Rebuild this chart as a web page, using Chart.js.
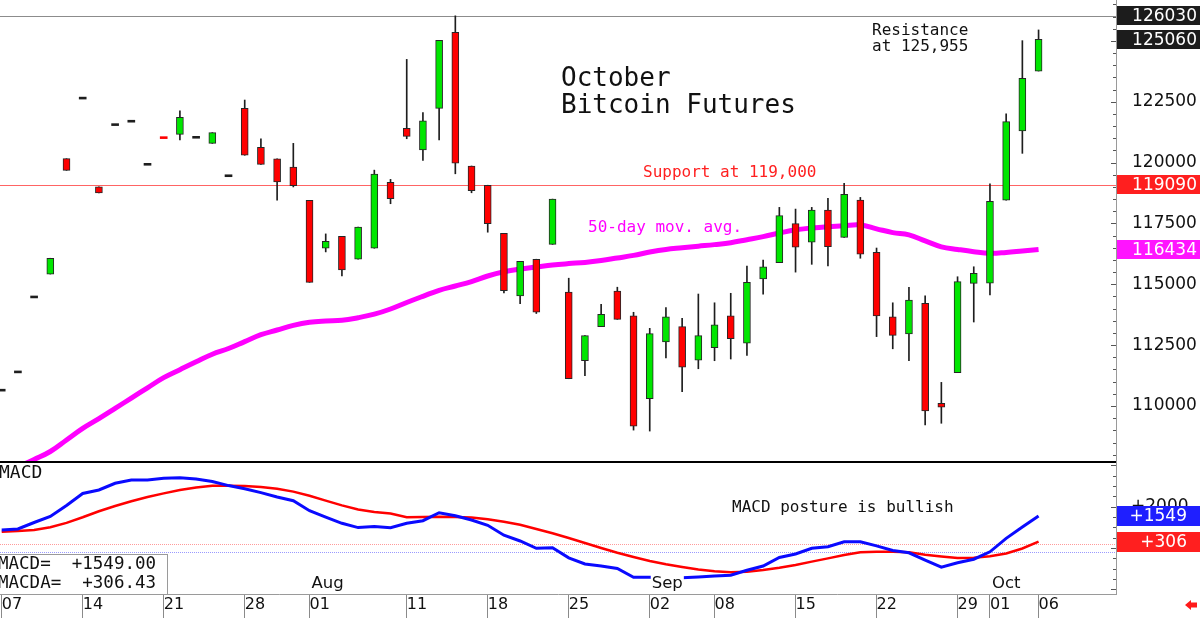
<!DOCTYPE html>
<html>
<head>
<meta charset="utf-8">
<title>October Bitcoin Futures</title>
<script src="https://cdn.jsdelivr.net/npm/chart.js@4.4.1/dist/chart.umd.min.js"></script>
<style>
  html, body { margin: 0; padding: 0; background: #fff; }
  #page { position: relative; width: 1200px; height: 618px; overflow: hidden; background: #fff; }
  #priceChart { position: absolute; left: 0; top: 0; }
  #macdChart { position: absolute; left: 0; top: 461px; }
</style>
</head>
<body>
<div id="page">
  <canvas id="priceChart" width="1200" height="461"></canvas>
  <canvas id="macdChart" width="1200" height="157"></canvas>
</div>
<script>
// daily bars, index = trading day (0 = Jul 07 ... 64 = Oct 06)
const openP = [
  110650, 111400, 114480, 115420, 120160,
  122650, 119000, 121560, 121700, 119930,
  121030, 121160, 121040, 120790, 119460,
  122230, 120630, 120150, 119820, 118450,
  116480, 116970, 116030, 116480, 119190,
  121410, 120520, 122230, 125350, 119860,
  119070, 117090, 114520, 116030, 116640,
  114680, 111860, 113260, 114720, 113700,
  110300, 112630, 113260, 111880, 112400,
  113700, 112580, 115220, 115890, 117490,
  116730, 118050, 116930, 118460, 116310,
  113660, 112960, 114220, 110110, 111370,
  115040, 115050, 118460, 121300, 123760
];
const highP = [
  110650, 111400, 114480, 116070, 120160,
  122650, 119000, 121560, 121700, 119930,
  121030, 122130, 121040, 121230, 119460,
  122570, 120980, 120150, 120790, 118450,
  117070, 116970, 117350, 119690, 119310,
  124240, 122050, 125020, 126030, 119860,
  119070, 117090, 115940, 116030, 118500,
  115250, 112890, 114180, 114880, 113850,
  113190, 114040, 113600, 114600, 114240,
  114630, 115750, 115990, 118160, 118090,
  118160, 118530, 119150, 118570, 116490,
  114240, 114880, 114530, 110970, 115310,
  115720, 119130, 122000, 125010, 125450
];
const lowP = [
  110650, 111400, 114480, 115420, 119680,
  122650, 118750, 121560, 121700, 119930,
  121020, 120930, 121040, 120790, 119460,
  120300, 119930, 118460, 119000, 115080,
  116330, 115340, 116030, 116480, 118310,
  120980, 120090, 120930, 119540, 118760,
  117140, 114650, 114200, 113800, 116640,
  111120, 111250, 113260, 113560, 109010,
  108970, 111980, 110590, 111530, 111860,
  111930, 112080, 114590, 115890, 115500,
  115820, 115750, 116930, 116070, 112850,
  112350, 111860, 109220, 109290, 111370,
  113450, 114560, 118460, 120380, 123760
];
const closeP = [
  110650, 111400, 114480, 116070, 119680,
  122650, 118750, 121560, 121700, 119930,
  121020, 121860, 121040, 121230, 119460,
  120300, 119930, 119210, 119050, 115080,
  116770, 115590, 117350, 119530, 118520,
  121080, 121720, 125020, 119980, 118850,
  117490, 114740, 115940, 113850, 118500,
  111120, 112890, 113770, 113560, 109170,
  112970, 113660, 111590, 112890, 113330,
  112770, 115080, 115720, 117820, 116530,
  118050, 116550, 118700, 116240, 113700,
  112900, 114350, 109800, 109950, 115110,
  115450, 118410, 121680, 123460, 125060
];
const ma50 = [
  107165, 107494, 107802, 108131, 108603,
  109080, 109482, 109901, 110325, 110748,
  111163, 111491, 111816, 112128, 112362,
  112646, 112929, 113122, 113311, 113438,
  113492, 113521, 113627, 113771, 113985,
  114252, 114506, 114753, 114930, 115114,
  115340, 115513, 115628, 115710, 115792,
  115850, 115899, 115977, 116080, 116187,
  116326, 116433, 116499, 116565, 116630,
  116708, 116832, 116959, 117107, 117238,
  117312, 117366, 117407, 117435, 117279,
  117123, 117029, 116782, 116540, 116433,
  116339, 116273, 116310, 116372, 116434
];
const macdLine = [
  869, 918, 1232, 1521, 2053,
  2632, 2801, 3125, 3284, 3284,
  3367, 3395, 3333, 3212, 3014,
  2864, 2676, 2463, 2285, 1802,
  1488, 1193, 985, 1043, 980,
  1193, 1319, 1705, 1560, 1352,
  1096, 618, 338, -14, 14,
  -473, -773, -869, -990, -1415,
  -1415, -1425, -1434, -1401, -1352,
  -1314, -1077, -869, -459, -290,
  -14, 63, 304, 304, 101,
  -121, -232, -580, -927, -715,
  -541, -184, 464, 1014, 1549.00
];
const macdAvg = [
  787, 821, 869, 1000, 1212,
  1483, 1777, 2029, 2260, 2463,
  2637, 2797, 2927, 3009, 3009,
  2995, 2941, 2864, 2724, 2521,
  2289, 2058, 1860, 1739, 1666,
  1488, 1497, 1512, 1497, 1468,
  1386, 1265, 1125, 918, 710,
  483, 242, 0, -227, -435,
  -628, -787, -918, -1043, -1125,
  -1169, -1145, -1063, -951, -821,
  -657, -502, -338, -208, -179,
  -179, -208, -328, -411, -488,
  -469, -401, -266, -24, 306.43
];

const dateLabels = ['07', '14', '21', '28', '01', '11', '18', '25', '02', '08', '15', '22', '29', '01', '06'];
const dateIdx = [0, 5, 10, 15, 19, 25, 30, 35, 40, 44, 49, 54, 59, 61, 64];
const monthLabels = ['Aug', 'Sep', 'Oct'];
const monthIdx = [19, 40, 61];

const priceTicks = [110000, 112500, 115000, 117500, 120000, 122500, 125000];
const macdTicks = [0, 2000];

const highLine = 126030;
const supportLine = 119090;
const priceMarks = [126030, 125060, 119090, 116434];
const macdRefLevels = [180, -210];

const UP = '#00e600', DOWN = '#ff0000', FLAT = '#1e1e1e';
const MONO = '"DejaVu Sans Mono", monospace';
const SANS = '"DejaVu Sans", sans-serif';
const X_MIN = -0.105, X_MAX = 68.78;

Chart.defaults.font.family = SANS;

function candleColor(i) {
  const d = closeP[i] - openP[i];
  return d > 0 ? UP : (d < 0 ? DOWN : FLAT);
}
function isDash(i) {
  return Math.abs(closeP[i] - openP[i]) < 80;
}

const bodyData = openP.map((o, i) => {
  let lo = Math.min(o, closeP[i]);
  let hi = Math.max(o, closeP[i]);
  if (hi - lo < 80) {
    const m = (hi + lo) / 2;
    lo = m - 40;
    hi = m + 40;
  }
  return { x: i, y: [lo, hi] };
});
const wickData = [];
highP.forEach((h, i) => {
  if (h > lowP[i]) wickData.push({ x: i, y: [lowP[i], h] });
});

function text(ctx, str, x, y, font, color, align) {
  ctx.save();
  ctx.font = font;
  ctx.fillStyle = color;
  ctx.textAlign = align || 'left';
  ctx.textBaseline = 'middle';
  ctx.fillText(str, x, y);
  ctx.restore();
}

function axisTicks(chart, step, major) {
  const s = chart.scales.y;
  const x = chart.chartArea.right;
  const ctx = chart.ctx;
  ctx.save();
  ctx.strokeStyle = '#555';
  ctx.lineWidth = 1;
  ctx.beginPath();
  for (let v = Math.ceil(s.min / step) * step; v <= s.max; v += step) {
    const y = Math.round(s.getPixelForValue(v)) + 0.5;
    const len = v % major === 0 ? 5 : 3;
    ctx.moveTo(x - len, y);
    ctx.lineTo(x, y);
  }
  ctx.stroke();
  ctx.restore();
}

function valueBox(ctx, y, str, bg, textRight, h) {
  ctx.save();
  ctx.fillStyle = bg;
  ctx.fillRect(1117, Math.round(y - h / 2), 83, h);
  ctx.restore();
  text(ctx, str, textRight, y + 1, '17px ' + SANS, '#fff', 'right');
}

function hLine(ctx, area, y, color, dash) {
  ctx.save();
  ctx.strokeStyle = color;
  ctx.lineWidth = 1;
  if (dash) ctx.setLineDash(dash);
  const py = Math.round(y) + 0.5;
  ctx.beginPath();
  ctx.moveTo(area.left, py);
  ctx.lineTo(area.right, py);
  ctx.stroke();
  ctx.restore();
}

const priceOverlay = {
  id: 'priceOverlay',
  beforeDatasetsDraw(chart) {
    const { ctx, chartArea, scales } = chart;
    hLine(ctx, chartArea, scales.y.getPixelForValue(highLine), '#8c8c8c');
    hLine(ctx, chartArea, scales.y.getPixelForValue(supportLine), '#ff6464');
  },
  afterDatasetsDraw(chart) {
    const ctx = chart.ctx;
    text(ctx, 'October', 561, 79, '26px ' + MONO, '#111');
    text(ctx, 'Bitcoin Futures', 561, 106, '26px ' + MONO, '#111');
    text(ctx, 'Support at 119,000', 643, 173, '16px ' + MONO, '#ff2020');
    text(ctx, '50-day mov. avg.', 588, 228, '16px ' + MONO, '#ff00ff');
    text(ctx, 'Resistance', 872, 31, '16px ' + MONO, '#111');
    text(ctx, 'at 125,955', 872, 47, '16px ' + MONO, '#111');
  },
  afterDraw(chart) {
    const ctx = chart.ctx;
    const y = chart.scales.y;
    axisTicks(chart, 500, 2500);
    const bgs = ['#1c1c1c', '#1c1c1c', '#ff1f1f', '#ff14ff'];
    priceMarks.forEach((v, i) => valueBox(ctx, y.getPixelForValue(v), String(v), bgs[i], 1197, 19));
  }
};

const macdOverlay = {
  id: 'macdOverlay',
  beforeDatasetsDraw(chart) {
    const { ctx, chartArea, scales } = chart;
    hLine(ctx, chartArea, scales.y.getPixelForValue(macdRefLevels[0]), '#ff9a9a', [1, 1]);
    hLine(ctx, chartArea, scales.y.getPixelForValue(macdRefLevels[1]), '#9a9aff', [1, 1]);
  },
  afterDatasetsDraw(chart) {
    const { ctx, chartArea, scales } = chart;
    ctx.save();
    ctx.fillStyle = '#000';
    ctx.fillRect(0, 0, chartArea.right, 2);
    ctx.restore();
    text(ctx, 'MACD', -1, 12, '18px ' + MONO, '#111');
    text(ctx, 'MACD posture is bullish', 732, 47, '16px ' + MONO, '#111');

    // value box, lower left
    ctx.save();
    ctx.fillStyle = '#fff';
    ctx.strokeStyle = '#9a9a9a';
    ctx.lineWidth = 1;
    ctx.fillRect(-1, 93, 169, 40);
    ctx.strokeRect(-0.5, 93.5, 168, 40);
    ctx.restore();
    const last = macdLine.length - 1;
    text(ctx, 'MACD=  +' + macdLine[last].toFixed(2), -2, 103, '17.5px ' + MONO, '#111');
    text(ctx, 'MACDA=  +' + macdAvg[last].toFixed(2), -2, 122, '17.5px ' + MONO, '#111');

    // month names above the date row
    monthLabels.forEach((m, i) => {
      const x = scales.x.getPixelForValue(monthIdx[i]) + 2;
      ctx.save();
      ctx.font = '16.5px ' + SANS;
      const w = ctx.measureText(m).width;
      ctx.fillStyle = '#fff';
      ctx.fillRect(x - 1, 112, w + 2, 21);
      ctx.restore();
      text(ctx, m, x, 123, '16.5px ' + SANS, '#111');
    });
  },
  afterDraw(chart) {
    const ctx = chart.ctx;
    const y = chart.scales.y;
    axisTicks(chart, 500, 2000);
    const last = macdLine.length - 1;
    valueBox(ctx, y.getPixelForValue(macdLine[last]), '+' + Math.round(macdLine[last]), '#1f1fff', 1187, 20);
    valueBox(ctx, y.getPixelForValue(macdAvg[last]), '+' + Math.round(macdAvg[last]), '#ff1f1f', 1187, 20);

    // small red arrow, bottom right
    ctx.save();
    ctx.fillStyle = '#ff1a1a';
    ctx.beginPath();
    ctx.moveTo(1185, 144);
    ctx.lineTo(1191, 139);
    ctx.lineTo(1191, 141.5);
    ctx.lineTo(1197, 141.5);
    ctx.lineTo(1197, 146.5);
    ctx.lineTo(1191, 146.5);
    ctx.lineTo(1191, 149);
    ctx.closePath();
    ctx.fill();
    ctx.restore();
  }
};

new Chart(document.getElementById('priceChart'), {
  type: 'bar',
  data: {
    datasets: [
      {
        type: 'bar',
        label: 'body',
        data: bodyData,
        backgroundColor: c => candleColor(c.dataIndex),
        borderColor: c => isDash(c.dataIndex) ? candleColor(c.dataIndex) : '#262626',
        borderWidth: c => isDash(c.dataIndex) ? 0 : 1,
        borderSkipped: false,
        barThickness: 7,
        grouped: false,
        order: 0
      },
      {
        type: 'bar',
        label: 'wick',
        data: wickData,
        backgroundColor: '#1e1e1e',
        barThickness: 1,
        grouped: false,
        order: 1
      },
      {
        type: 'line',
        label: '50-day mov. avg.',
        data: ma50.map((v, i) => ({ x: i, y: v })),
        borderColor: '#ff00ff',
        borderWidth: 5,
        pointRadius: 0,
        tension: 0.4,
        order: 2
      }
    ]
  },
  options: {
    responsive: false,
    animation: false,
    devicePixelRatio: 1,
    layout: { padding: 0 },
    plugins: { legend: { display: false }, tooltip: { enabled: false } },
    scales: {
      x: { type: 'linear', min: X_MIN, max: X_MAX, offset: false, grid: { offset: false }, display: false },
      y: {
        type: 'linear',
        position: 'right',
        min: 107740,
        max: 126680,
        afterBuildTicks: s => { s.ticks = priceTicks.map(v => ({ value: v })); },
        afterFit: s => { s.width = 84; s.paddingTop = 0; s.paddingBottom = 0; },
        grid: { display: false, drawTicks: false },
        border: { display: true, color: '#9a9a9a', width: 1 },
        ticks: {
          padding: 16,
          crossAlign: 'near',
          color: '#111',
          font: { family: SANS, size: 17 },
          callback: v => String(v)
        }
      }
    }
  },
  plugins: [priceOverlay]
});

new Chart(document.getElementById('macdChart'), {
  type: 'line',
  data: {
    datasets: [
      {
        label: 'MACD',
        data: macdLine.map((v, i) => ({ x: i, y: v })),
        borderColor: '#0a0aff',
        borderWidth: 3,
        pointRadius: 0,
        tension: 0,
        order: 0
      },
      {
        label: 'MACDA',
        data: macdAvg.map((v, i) => ({ x: i, y: v })),
        borderColor: '#ff0000',
        borderWidth: 2.5,
        pointRadius: 0,
        tension: 0,
        order: 1
      }
    ]
  },
  options: {
    responsive: false,
    animation: false,
    devicePixelRatio: 1,
    layout: { padding: 0 },
    plugins: { legend: { display: false }, tooltip: { enabled: false } },
    scales: {
      x: {
        type: 'linear',
        min: X_MIN,
        max: X_MAX,
        afterBuildTicks: s => { s.ticks = dateIdx.map(v => ({ value: v })); },
        afterFit: s => { s.height = 24; s.paddingLeft = 0; s.paddingRight = 0; },
        grid: { display: true, drawOnChartArea: false, drawTicks: true, tickLength: 24, color: '#8a8a8a', lineWidth: 1 },
        border: { display: true, color: '#9a9a9a', width: 1 },
        ticks: {
          autoSkip: false,
          maxRotation: 0,
          align: 'start',
          padding: -23,
          color: '#111',
          font: { family: SANS, size: 16 },
          callback: (v, i) => dateLabels[i]
        }
      },
      y: {
        type: 'linear',
        position: 'right',
        min: -2222,
        max: 4202,
        afterBuildTicks: s => { s.ticks = macdTicks.map(v => ({ value: v })); },
        afterFit: s => { s.width = 84; s.paddingTop = 0; s.paddingBottom = 0; },
        grid: { display: false, drawTicks: false },
        border: { display: true, color: '#9a9a9a', width: 1 },
        ticks: {
          padding: 15,
          crossAlign: 'near',
          color: '#111',
          font: { family: SANS, size: 17 },
          callback: v => (v > 0 ? '+' : '') + v
        }
      }
    }
  },
  plugins: [macdOverlay]
});
</script>
</body>
</html>
